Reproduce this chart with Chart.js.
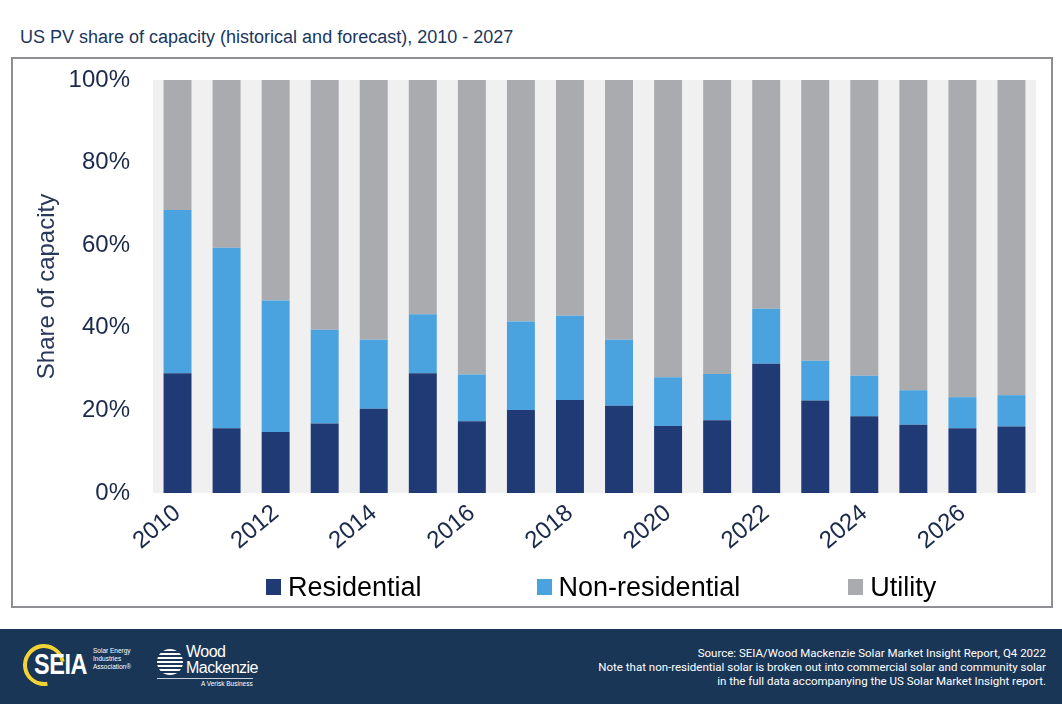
<!DOCTYPE html>
<html>
<head>
<meta charset="utf-8">
<script src="https://cdn.jsdelivr.net/npm/chart.js@4.4.1/dist/chart.umd.min.js"></script>
<style>
  html, body { margin: 0; padding: 0; background: #ffffff; }
  body { width: 1062px; height: 704px; position: relative; overflow: hidden; font-family: "Liberation Sans", Arial, sans-serif; }
  #title { position: absolute; left: 20px; top: 27px; font-size: 18px; color: #1b365d; white-space: nowrap; }
  #box { position: absolute; left: 11px; top: 57px; width: 1038px; height: 547px; border: 2px solid #8e8e93; }
  #wrap { position: absolute; left: 13px; top: 59px; width: 1038px; height: 547px; }
  #legend { position: absolute; left: 266px; top: 570px; height: 34px; display: flex; align-items: center; white-space: nowrap; }
  .li { display: flex; align-items: center; gap: 7px; font-size: 27px; color: #000; line-height: 34px; }
  .sw { width: 15px; height: 16px; display: inline-block; }
  #footer { position: absolute; left: 0; top: 629px; width: 1062px; height: 75px; background: #1a3657; }
  #src { position: absolute; right: 16px; top: 17px; text-align: right; color: #ffffff; font-family: Roboto, "Liberation Sans", sans-serif; font-size: 11.5px; line-height: 14px; white-space: nowrap; }
  .seia { position: absolute; left: 23px; top: 15px; width: 70px; height: 46px; }
  .ring { position: absolute; left: 0; top: 0; width: 34px; height: 34px; border-radius: 50%; border: 4px solid #f3d333; border-right-color: transparent; transform: rotate(35deg); }
  .seiatxt { position: absolute; left: 11px; top: 3px; color: #fff; font-family: "Liberation Sans", Arial, sans-serif; font-weight: bold; font-size: 30px; letter-spacing: -0.5px; transform: scaleX(0.78); transform-origin: left center; }
  .seiasmall { position: absolute; left: 93px; top: 18px; color: #fff; font-size: 6.5px; line-height: 8px; font-family: "Liberation Sans", Arial, sans-serif; }
  .wm { position: absolute; left: 157px; top: 15px; }
  .wmicon { position: absolute; left: 0; top: 5px; width: 26px; height: 26px; border-radius: 50%; background: repeating-linear-gradient(180deg, #fff 0 2px, #1a3657 2px 4px); }
  .wmtxt { position: absolute; left: 29px; top: 0; color: #fff; font-family: "Liberation Sans", Arial, sans-serif; font-size: 16px; line-height: 16px; letter-spacing: -0.5px; white-space: nowrap; }
  .wmline { position: absolute; left: 0; top: 34px; width: 96px; height: 1px; background: #c8d0dc; }
  .wmsub { position: absolute; left: 44px; top: 36px; color: #fff; font-size: 6.5px; font-family: "Liberation Sans", Arial, sans-serif; white-space: nowrap; }
</style>
</head>
<body>
<div id="title">US PV share of capacity (historical and forecast), 2010 - 2027</div>
<div id="box"></div>
<div id="wrap"><canvas id="c"></canvas></div>
<div id="legend"></div>
<div id="footer">
  <div class="seia"><div class="ring"></div><div class="seiatxt">SEIA</div></div>
  <div class="seiasmall">Solar Energy<br>Industries<br>Association®</div>
  <div class="wm"><div class="wmicon"></div><div class="wmtxt">Wood<br>Mackenzie</div><div class="wmline"></div><div class="wmsub">A Verisk Business</div></div>
  <div id="src">Source: SEIA/Wood Mackenzie Solar Market Insight Report, Q4 2022<br>Note that non-residential solar is broken out into commercial solar and community solar<br>in the full data accompanying the US Solar Market Insight report.</div>
</div>
<script>
const years = ["2010","2011","2012","2013","2014","2015","2016","2017","2018","2019","2020","2021","2022","2023","2024","2025","2026","2027"];
const residential = [29.0,15.7,14.8,16.8,20.4,29.0,17.4,20.1,22.5,21.1,16.2,17.6,31.3,22.4,18.6,16.5,15.7,16.1];
const nonResidential = [39.5,43.7,31.8,22.7,16.7,14.3,11.3,21.4,20.4,16.0,11.8,11.2,13.3,9.6,9.8,8.4,7.5,7.6];
const utility = [31.5,40.6,53.4,60.5,62.9,56.7,71.3,58.5,57.1,62.9,72.0,71.2,55.4,68.0,71.6,75.1,76.8,76.3];
const yTicks = [0,20,40,60,80,100];
const seriesNames = ["Residential","Non-residential","Utility"];
const seriesColors = ["#1f3a75","#4aa3df","#aaabaf"];

const plotBg = {
  id: 'plotBg',
  beforeDatasetsDraw(chart) {
    const a = chart.chartArea, ctx = chart.ctx;
    ctx.save(); ctx.fillStyle = '#f0f0f0';
    ctx.fillRect(a.left, a.top, a.right - a.left, a.bottom - a.top);
    ctx.restore();
  }
};

const seriesData = [residential, nonResidential, utility];
const chart = new Chart(document.getElementById('c'), {
  type: 'bar',
  data: {
    labels: years,
    datasets: seriesNames.map((n, i) => ({
      label: n, data: seriesData[i], backgroundColor: seriesColors[i],
      barPercentage: 0.57, categoryPercentage: 1.0, borderWidth: 0
    }))
  },
  options: {
    responsive: true,
    maintainAspectRatio: false,
    animation: false,
    layout: { padding: { top: 21, right: 15, left: 20, bottom: 41 } },
    plugins: {
      tooltip: { enabled: false },
      legend: { display: false }
    },
    scales: {
      x: {
        stacked: true,
        grid: { display: false, drawTicks: false },
        border: { display: false },
        afterFit(s) { s.height = 72; s.paddingLeft = 0; s.paddingRight = 0; },
        ticks: {
          autoSkip: false, maxRotation: 40, minRotation: 40, padding: 6,
          color: '#1b2a4a',
          font: { family: '"Liberation Sans", Arial, sans-serif', size: 24 },
          callback(v, i) { return i % 2 === 0 ? years[i] : ''; }
        }
      },
      y: {
        stacked: true, min: 0, max: 100,
        grid: { display: false, drawTicks: false },
        border: { display: false },
        afterFit(s) { s.width = 120; s.paddingTop = 0; s.paddingBottom = 0; },
        afterBuildTicks(s) { s.ticks = yTicks.map(v => ({ value: v })); },
        title: {
          display: true, text: 'Share of capacity', color: '#27385a',
          font: { family: '"Liberation Sans", Arial, sans-serif', size: 24 }, padding: 0
        },
        ticks: {
          padding: 23, color: '#1b2a4a',
          font: { family: '"Liberation Sans", Arial, sans-serif', size: 24 },
          callback(v) { return v + '%'; }
        }
      }
    }
  },
  plugins: [plotBg]
});

const legend = document.getElementById('legend');
const legendGaps = [0, 115, 108];
chart.data.datasets.forEach((ds, i) => {
  const item = document.createElement('div'); item.className = 'li';
  item.style.marginLeft = legendGaps[i] + 'px';
  const sw = document.createElement('span'); sw.className = 'sw'; sw.style.background = ds.backgroundColor;
  const tx = document.createElement('span'); tx.textContent = ds.label;
  item.appendChild(sw); item.appendChild(tx); legend.appendChild(item);
});
</script>
</body>
</html>
